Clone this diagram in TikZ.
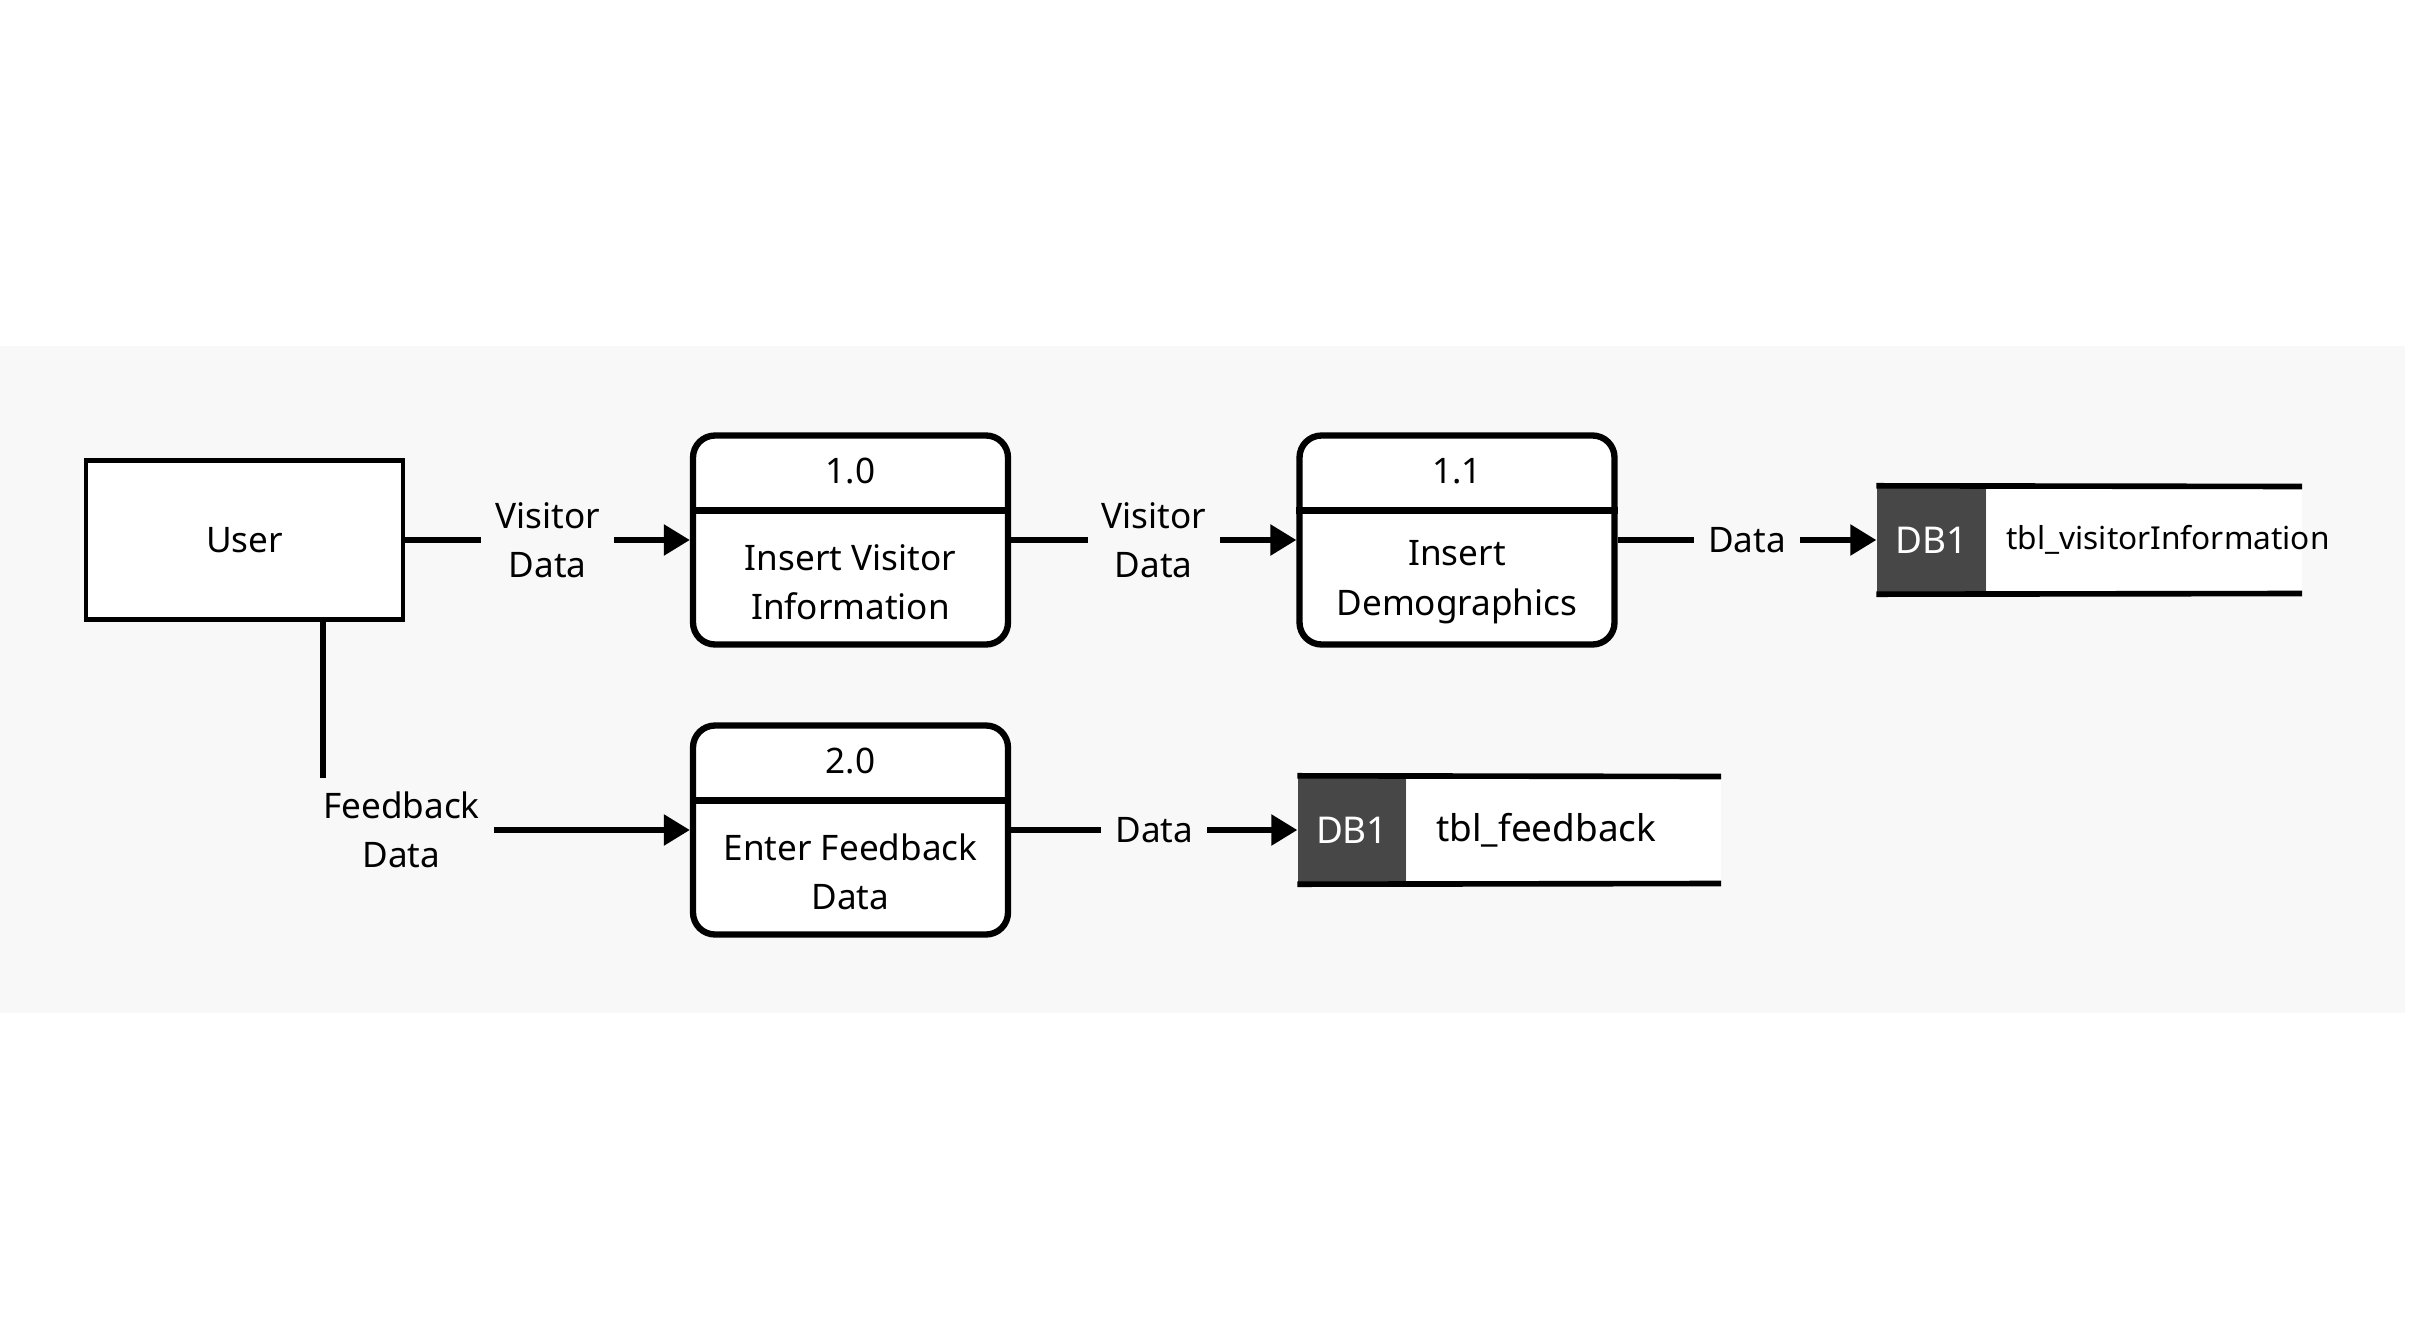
\documentclass[tikz,border=0pt]{standalone}
\usepackage{fontspec}
\setmainfont{Noto Sans}
\usetikzlibrary{arrows.meta,positioning}
\definecolor{panelgray}{HTML}{F8F8F8}
\definecolor{storegray}{HTML}{474747}

\begin{document}
\begin{tikzpicture}[scale=1.0,
    txt/.style={align=center, font=\fontsize{10}{14}\selectfont},
    ent/.style={draw, line width=1.3pt, fill=white, minimum width=3.17cm, minimum height=1.59cm},
    proc/.style={draw, line width=1.8pt, rounded corners=0.22cm, fill=white, minimum width=3.15cm, minimum height=2.09cm, inner sep=0pt},
    store/.style={fill=storegray, text=white, minimum height=1.07cm, inner sep=0pt, font=\fontsize{10.5}{14}\selectfont},
    flow/.style={line width=1.6pt, -{Triangle[length=0.26cm,width=0.3cm]}},
    lbl/.style={txt, fill=panelgray, inner sep=0.14cm},
  ]
    % Draw background
    \useasboundingbox (0,0) rectangle (24.14,13.24);
    \fill [white] (0,0) rectangle (24.14,13.24);
    \fill [panelgray] (0,3.11) rectangle (24.05,9.78);

    % Draw entity
    \node [ent, txt] (user) at (2.445,7.84) {User};

    % Draw processes
    \node [proc] (p1) at (8.505,7.84) {};
    \node [proc] (p2) at (14.57,7.84) {};
    \node [proc] (p3) at (8.505,4.94) {};
    \foreach \p/\num/\name in {p1/1.0/{Insert Visitor\\Information}, p2/1.1/{Insert\\Demographics}, p3/2.0/{Enter Feedback\\Data}} {
        \draw [line width=1.8pt] ([yshift=-0.78cm]\p.north west) -- ([yshift=-0.78cm]\p.north east);
        \node [txt] (\p-num) at ([yshift=-0.39cm]\p.north) {\num};
        \node [txt] (\p-name) at ([yshift=0.655cm]\p.south) {\name};
    }

    % Draw data stores
    \node [store, minimum width=1.09cm] (db1) at (19.315,7.84) {DB1};
    \fill [white] (db1.north east) rectangle (23.02,7.305);
    \draw [line width=1.6pt] (db1.north west) -- (23.02,8.375);
    \draw [line width=1.6pt] (db1.south west) -- (23.02,7.305);
    \node [anchor=west, inner sep=0pt, font=\fontsize{9}{12}\selectfont] (t1) at ([xshift=0.19cm]db1.east) {tbl\_visitorInformation};

    \node [store, minimum width=1.08cm] (db2) at (13.52,4.94) {DB1};
    \fill [white] (db2.north east) rectangle (17.21,4.405);
    \draw [line width=1.6pt] (db2.north west) -- (17.21,5.475);
    \draw [line width=1.6pt] (db2.south west) -- (17.21,4.405);
    \node [anchor=west, inner sep=0pt, font=\fontsize{10.5}{13}\selectfont] (t2) at ([xshift=0.29cm]db2.east) {tbl\_feedback};

    % Draw flows
    \draw [flow] (user) -- node [lbl] {Visitor\\Data} (p1);
    \draw [flow] (p1) -- node [lbl] {Visitor\\Data} (p2);
    \draw [flow] (p2) -- node [lbl] {Data} (db1);
    \draw [flow] (p3) -- node [lbl] {Data} (db2);
    \draw [flow] ([xshift=0.785cm]user.south) |- node [lbl, pos=0.607] {Feedback\\Data} (p3);
\end{tikzpicture}
\end{document}
